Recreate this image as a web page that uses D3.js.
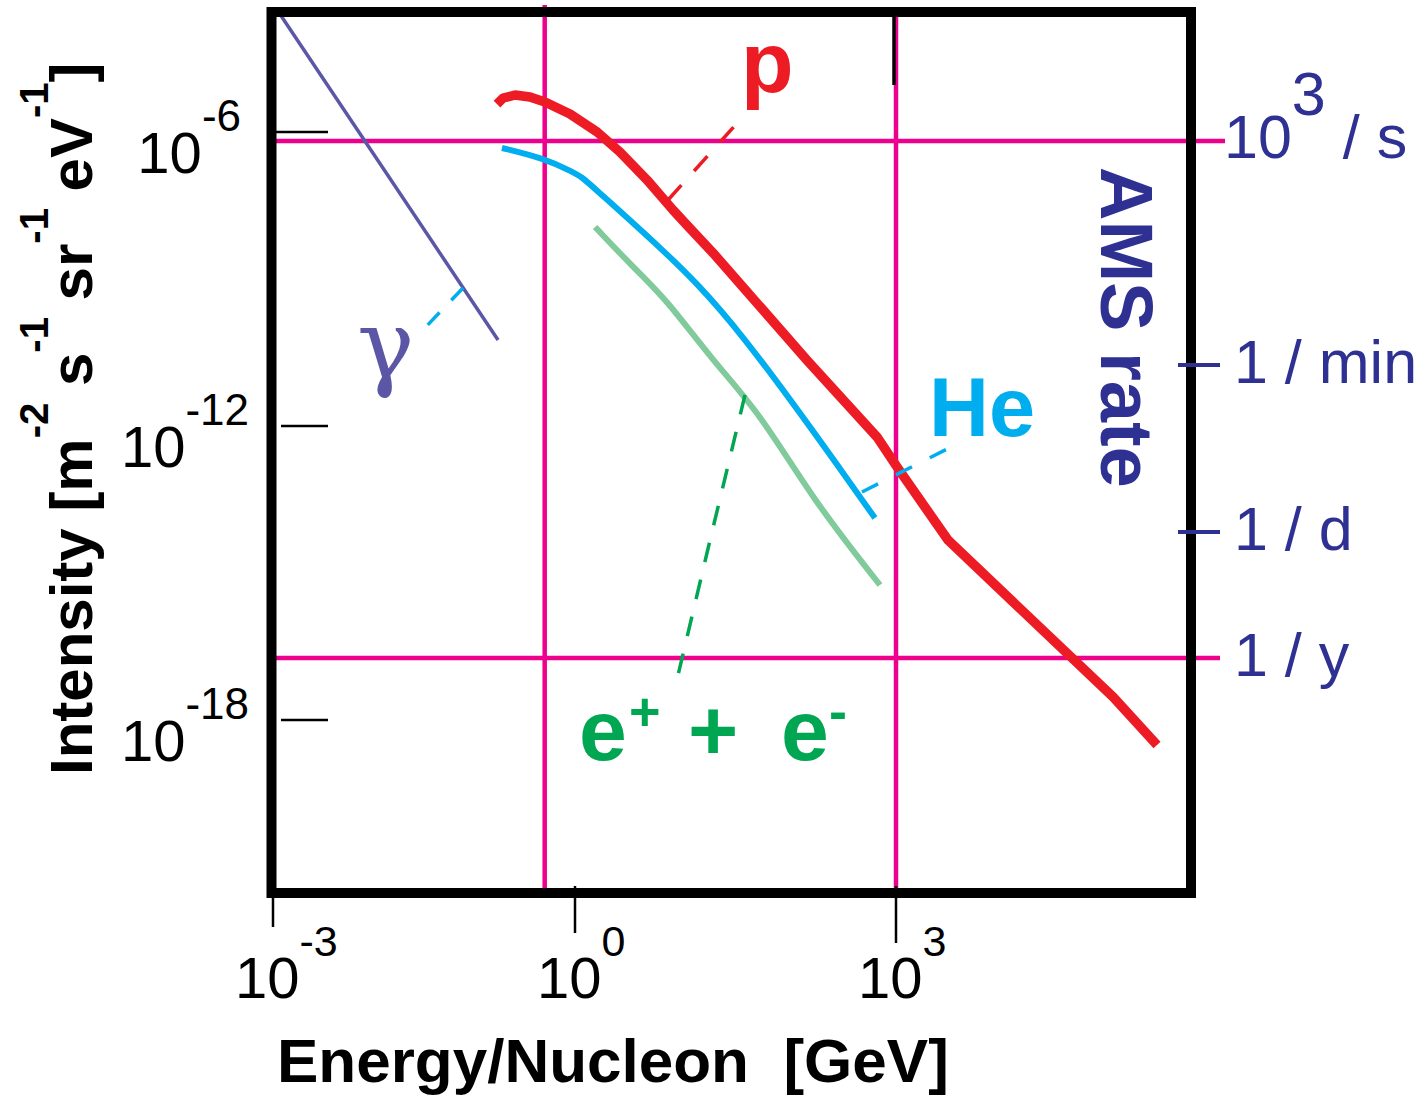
<!DOCTYPE html>
<html>
<head>
<meta charset="utf-8">
<script src="https://cdn.jsdelivr.net/npm/d3@7"></script>
<style>
body { margin: 0; background: #fff; }
text { font-family: "Liberation Sans", Arial, Helvetica, sans-serif; white-space: pre; }
</style>
</head>
<body>
<svg id="chart" width="1422" height="1096"></svg>
<script>
// spectra (energy in GeV/nucleon, intensity in m^-2 s^-1 sr^-1 eV^-1)
var p_energy = [0.168, 0.193, 0.254, 0.357, 0.503, 0.892, 1.61, 2.63, 4.71, 8.24, 11.1, 19.5, 147, 664, 1021, 3060, 1.07e5, 2.75e5];
var p_flux = [3.72e-6, 4.94e-6, 5.69e-6, 5.18e-6, 4.09e-6, 2.33e-6, 1e-6, 3.91e-7, 1.05e-7, 2.56e-8, 1.26e-8, 3.40e-9, 2.22e-11, 5.97e-13, 1.46e-13, 4.71e-15, 2.94e-18, 3.09e-19];

var he_energy = [0.188, 0.481, 0.955, 1.19, 1.47, 6.23, 30.0, 636];
var he_flux = [4.72e-7, 2.94e-7, 1.53e-7, 1.15e-7, 7.55e-8, 4.50e-9, 1.60e-10, 1.32e-14];

var e_energy = [1.54, 3.48, 7.24, 19.1, 53.6, 168, 708];
var e_flux = [1.15e-8, 1.76e-9, 3.73e-10, 2.22e-11, 1.84e-12, 3.09e-14, 5.69e-16];

var gamma_energy = [1.17e-3, 0.172];
var gamma_flux = [2.56e-4, 5.69e-11];

// dashed label leaders [energy, intensity]
var p_leader = [[7.40, 4.09e-8], [34.8, 1.76e-6]];
var he_leader = [[481, 4.50e-14], [3410, 3.91e-13]];
var gamma_leader = [[0.0772, 6.55e-10], [0.0276, 7.19e-11]];
var e_leader = [[38.8, 4.30e-12], [18.3, 4.71e-15], [8.60, 4.50e-18]];

// axes
var x_ticks = [1e-3, 1, 1e3];
var x_tick_exp = ['-3', '0', '3'];
var y_ticks = [1e-6, 1e-12, 1e-18];
var y_tick_exp = ['-6', '-12', '-18'];
var rate_ticks = [1e3, 1 / 60, 1 / 86400, 1 / 31557600];
var rate_labels = ['10', '1 / min', '1 / d', '1 / y'];
var grid_energy = [0.5, 1e3];
var grid_rate = [1e3, 1 / 31557600];

var magenta = "#EC008C", navy = "#2E3192";

var svg = d3.select("#chart");
var frame = {left: 271.5, top: 12, right: 1191, bottom: 893};

var x = d3.scaleLog()
    .domain([1e-3, 1, 1e3])
    .range([273, 575, 896]);

var y = d3.scaleLog()
    .domain([1e-6, 1e-18])
    .range([132, 720]);

var rate = d3.scaleLog()
    .domain(rate_ticks)
    .range([141, 365, 532, 658]);

var line = d3.line()
    .x(d => x(d[0]))
    .y(d => y(d[1]));

var smooth = d3.line()
    .curve(d3.curveBasis)
    .x(d => x(d[0]))
    .y(d => y(d[1]));

//-----------------------------------------------------------------------------
// magenta grid
svg.selectAll(".grid-v")
    .data(grid_energy)
  .enter().append("line")
    .attr("class", "grid-v")
    .attr("x1", d => x(d)).attr("x2", d => x(d))
    .attr("y1", (d, i) => i == 0 ? frame.top - 7 : frame.top)
    .attr("y2", frame.bottom - 4)
    .attr("stroke", magenta)
    .attr("stroke-width", 4.5);

svg.selectAll(".grid-h")
    .data(grid_rate)
  .enter().append("line")
    .attr("class", "grid-h")
    .attr("x1", frame.left + 4)
    .attr("x2", (d, i) => i == 0 ? 1225 : 1220)
    .attr("y1", d => rate(d)).attr("y2", d => rate(d))
    .attr("stroke", magenta)
    .attr("stroke-width", 4.5);

//-----------------------------------------------------------------------------
// spectra (proton and gamma straight segments, He and e smoothed)
var series = [
    {pts: d3.zip(gamma_energy, gamma_flux), color: "#5B57A6", w: 3.5, gen: line},
    {pts: d3.zip(e_energy, e_flux), color: "#80CA9B", w: 6, gen: smooth},
    {pts: d3.zip(he_energy, he_flux), color: "#00AEEF", w: 6, gen: smooth},
    {pts: d3.zip(p_energy, p_flux), color: "#ED1C24", w: 9.5, gen: line}
];

svg.selectAll(".spectrum")
    .data(series)
  .enter().append("path")
    .attr("class", "spectrum")
    .attr("d", d => d.gen(d.pts))
    .attr("fill", "none")
    .attr("stroke", d => d.color)
    .attr("stroke-width", d => d.w)
    .attr("stroke-linejoin", "round");

var leaders = [
    {pts: p_leader, color: "#ED1C24", dash: "20,19"},
    {pts: he_leader, color: "#00AEEF", dash: "18,20"},
    {pts: gamma_leader, color: "#00AEEF", dash: "17,17"},
    {pts: e_leader, color: "#00A651", dash: "20,18"}
];

svg.selectAll(".leader")
    .data(leaders)
  .enter().append("path")
    .attr("class", "leader")
    .attr("d", d => line(d.pts))
    .attr("fill", "none")
    .attr("stroke", d => d.color)
    .attr("stroke-width", 3.5)
    .attr("stroke-dasharray", d => d.dash);

//-----------------------------------------------------------------------------
// frame and ticks
svg.append("rect")
    .attr("x", frame.left).attr("y", frame.top)
    .attr("width", frame.right - frame.left)
    .attr("height", frame.bottom - frame.top)
    .attr("fill", "none")
    .attr("stroke", "#000")
    .attr("stroke-width", 10);

svg.append("line")
    .attr("x1", x(1e3) - 2).attr("x2", x(1e3) - 2)
    .attr("y1", frame.top).attr("y2", 85)
    .attr("stroke", "#000")
    .attr("stroke-width", 3.5);

svg.selectAll(".x-tick")
    .data(x_ticks)
  .enter().append("line")
    .attr("class", "x-tick")
    .attr("x1", d => x(d)).attr("x2", d => x(d))
    .attr("y1", (d, i) => i == 0 ? 897 : 886)
    .attr("y2", (d, i) => [927, 933, 943][i])
    .attr("stroke", "#000")
    .attr("stroke-width", 2.5);

var xLabels = svg.selectAll(".x-label")
    .data(x_ticks)
  .enter().append("text")
    .attr("class", "x-label")
    .attr("x", d => x(d) - 38)
    .attr("y", 998)
    .attr("font-size", 58)
    .text("10");
xLabels.append("tspan")
    .attr("dy", -42)
    .attr("font-size", 43)
    .text((d, i) => x_tick_exp[i]);

svg.selectAll(".y-tick")
    .data(y_ticks)
  .enter().append("line")
    .attr("class", "y-tick")
    .attr("x1", (d, i) => i == 0 ? 276 : 281).attr("x2", 328)
    .attr("y1", d => y(d)).attr("y2", d => y(d))
    .attr("stroke", "#000")
    .attr("stroke-width", 2.5);

var yLabels = svg.selectAll(".y-label")
    .data(y_ticks)
  .enter().append("text")
    .attr("class", "y-label")
    .attr("x", (d, i) => i == 0 ? 241 : 249)
    .attr("y", d => y(d) + 41)
    .attr("text-anchor", "end")
    .attr("font-size", 58)
    .text("10");
yLabels.append("tspan")
    .attr("dy", -42)
    .attr("font-size", 44)
    .text((d, i) => y_tick_exp[i]);

// right hand rate axis
svg.selectAll(".rate-tick")
    .data(rate_ticks.slice(1, 3))
  .enter().append("line")
    .attr("class", "rate-tick")
    .attr("x1", 1178).attr("x2", 1220)
    .attr("y1", d => rate(d)).attr("y2", d => rate(d))
    .attr("stroke", navy)
    .attr("stroke-width", 4);

var rLabels = svg.selectAll(".rate-label")
    .data(rate_ticks)
  .enter().append("text")
    .attr("class", "rate-label")
    .attr("x", (d, i) => i == 0 ? 1224 : 1234)
    .attr("y", (d, i) => rate(d) + (i == 0 ? 17 : 18))
    .attr("font-size", 61)
    .attr("fill", navy)
    .text((d, i) => rate_labels[i]);
rLabels.filter((d, i) => i == 0).append("tspan")
    .attr("dy", -43)
    .text("3");
rLabels.filter((d, i) => i == 0).append("tspan")
    .attr("dy", 43)
    .text(" / s");

svg.append("text")
    .attr("transform", "translate(1101,167) rotate(90)")
    .attr("font-size", 74)
    .attr("font-weight", "bold")
    .attr("fill", navy)
    .text("AMS rate");

//-----------------------------------------------------------------------------
// axis titles
svg.append("text")
    .attr("x", 277).attr("y", 1082)
    .attr("font-size", 62)
    .attr("font-weight", "bold")
    .text("Energy/Nucleon  [GeV]");

var yTitle = svg.append("text")
    .attr("transform", "translate(92,775) rotate(-90)")
    .attr("font-size", 60)
    .attr("font-weight", "bold");
var unitParts = [["Intensity [m", "-2"], [" s", "-1"], [" sr", "-1"], [" eV", "-1"], ["]", null]];
unitParts.forEach(function(part, i) {
    yTitle.append("tspan").attr("dy", i == 0 ? 0 : 44).text(part[0]);
    if (part[1]) yTitle.append("tspan").attr("dy", -44).attr("font-size", 40).text(part[1]);
});

//-----------------------------------------------------------------------------
// curve labels
svg.append("text")
    .attr("x", 741).attr("y", 92)
    .attr("font-size", 86)
    .attr("font-weight", "bold")
    .attr("fill", "#ED1C24")
    .text("p");

svg.append("text")
    .attr("x", 929).attr("y", 436)
    .attr("font-size", 83)
    .attr("font-weight", "bold")
    .attr("fill", "#00AEEF")
    .text("He");

svg.append("text")
    .attr("x", 357).attr("y", 378)
    .attr("font-size", 96)
    .attr("fill", "#5B57A6")
    .style("font-family", '"DejaVu Serif", "Liberation Serif", serif')
    .text("γ");

var eLabel = svg.append("text")
    .attr("y", 760)
    .attr("font-size", 86)
    .attr("font-weight", "bold")
    .attr("fill", "#00A651");
eLabel.append("tspan").attr("x", 579).text("e");
eLabel.append("tspan").attr("x", 629).attr("dy", -30).attr("font-size", 54).text("+");
eLabel.append("tspan").attr("x", 688).attr("dy", 30).text("+");
eLabel.append("tspan").attr("x", 781).text("e");
eLabel.append("tspan").attr("x", 829).attr("dy", -30).attr("font-size", 54).text("-");
</script>
</body>
</html>
